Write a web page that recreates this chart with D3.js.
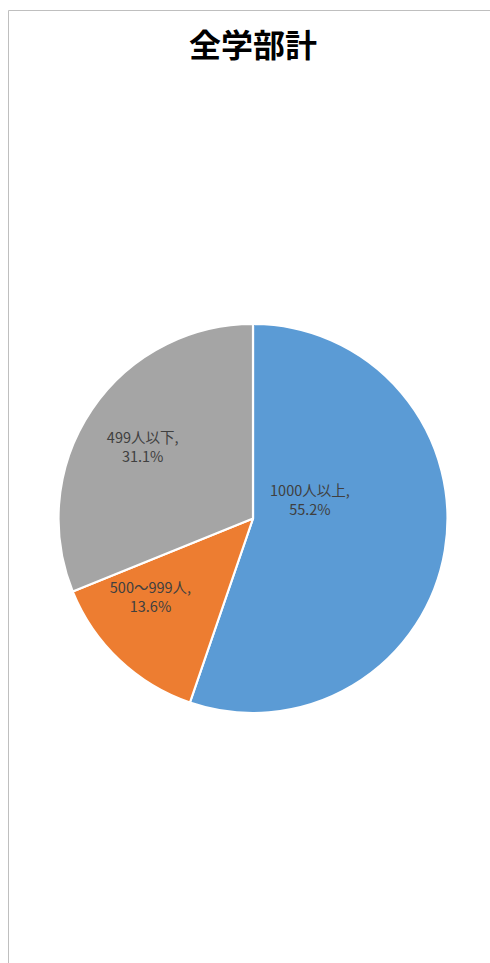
<!DOCTYPE html>
<html>
<head>
<meta charset="utf-8">
<script src="https://cdn.jsdelivr.net/npm/d3@7"></script>
<style>
  html, body { margin: 0; padding: 0; background: #fff; }
</style>
</head>
<body>
<div id="chart"></div>
<script>
// data
var title = "全学部計";
var categories = ["1000人以上", "500～999人", "499人以下"];
var values = [55.2, 13.6, 31.1];
var colors = ["#5B9BD5", "#ED7D31", "#A5A5A5"];

// label placement (radius as fraction of pie radius, angle in degrees from 12 o'clock)
var labelPlace = [[0.31, 70.7], [0.66, 233], [0.68, 303.5]];

var width = 490, height = 963;
var cx = 253, cy = 518.5, radius = 194.5;

var svg = d3.select("#chart")
  .append("svg")
  .attr("width", width)
  .attr("height", height);

// chart frame (cropped at right and bottom)
svg.append("path")
  .attr("d", "M8.5," + height + "V10.5H" + width)
  .attr("fill", "none")
  .attr("stroke", "#BFBFBF")
  .attr("stroke-width", 1);

svg.append("text")
  .attr("x", cx)
  .attr("y", 57)
  .attr("text-anchor", "middle")
  .attr("font-family", "'Noto Sans CJK JP', sans-serif")
  .attr("font-weight", "bold")
  .attr("font-size", 32)
  .attr("fill", "#000")
  .text(title);

var pie = d3.pie().sort(null).value(function(d){ return d; });
var arc = d3.arc().innerRadius(0).outerRadius(radius);

var g = svg.append("g")
  .attr("transform", "translate(" + cx + "," + cy + ")");

var arcs = pie(values);

g.selectAll("path.slice")
  .data(arcs)
  .enter().append("path")
  .attr("class", "slice")
  .attr("d", arc)
  .attr("fill", function(d, i){ return colors[i]; })
  .attr("stroke", "#fff")
  .attr("stroke-width", 2.2)
  .attr("stroke-linejoin", "round");

var labels = g.selectAll("text.lab")
  .data(arcs)
  .enter().append("text")
  .attr("class", "lab")
  .attr("text-anchor", "middle")
  .attr("font-family", "'Noto Sans CJK JP', sans-serif")
  .attr("font-size", 14.5)
  .attr("fill", "#404040")
  .attr("transform", function(d, i){
    var r = labelPlace[i][0] * radius, a = labelPlace[i][1] * Math.PI / 180;
    return "translate(" + (r * Math.sin(a)) + "," + (-r * Math.cos(a)) + ")";
  });

labels.append("tspan")
  .attr("x", 0)
  .attr("dy", "-0.2em")
  .text(function(d, i){ return categories[i] + ","; });

labels.append("tspan")
  .attr("x", 0)
  .attr("dy", 19)
  .text(function(d, i){ return values[i].toFixed(1) + "%"; });
</script>
</body>
</html>
